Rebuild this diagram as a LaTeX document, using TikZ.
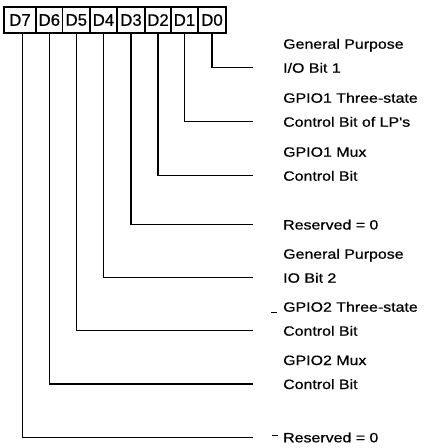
\documentclass[tikz,border=0pt]{standalone}
\usepackage{fontspec}
\setmainfont{Liberation Sans}
\newfontfamily\lblfont[FakeStretch=1.18,FakeBold=0.7]{Liberation Sans}
\newfontfamily\bitfont[FakeBold=0.5]{Liberation Sans}
\begin{document}
\begin{tikzpicture}[x=1pt,y=-1pt,
  cell/.style={draw,line width=1.1pt,inner sep=0pt,minimum height=26pt,font=\bitfont\fontsize{16.8}{17}\selectfont},
  wire/.style={line width=1.2pt},
  lbl/.style={anchor=base west,inner sep=0pt,font=\lblfont\fontsize{13.5}{15}\selectfont},
  tick/.style={line width=0.6pt}]
\useasboundingbox (0,0) rectangle (425,448);
% bit cells
\foreach \n/\a/\b in {7/4/36,6/36/62.7,5/62.7/90,4/90/117,3/117/145,2/145/171,1/171/198,0/198/226}{
  \node[cell,minimum width={(\b-\a)*1pt}] (c\n) at ({(\a+\b)/2},20) {D\n};
}
% wire end coordinates
\foreach \n/\y in {0/67.7,1/121.7,2/175.7,3/224.5,4/277.7,5/330.7,6/384,7/437.3}{
  \coordinate (e\n) at (252.5,\y);
}
\draw[wire] (c0.south) |- (e0);
\draw[wire] (c1.south) |- (e1);
\draw[wire] (c2.south) |- (e2);
\draw[wire] (c3.south) |- (e3);
\draw[wire] (c4.south) |- (e4);
\draw[wire] (c5.south) |- (e5);
\draw[wire] (c6.south) |- (e6);
\draw[wire] ([xshift=2.5pt]c7.south) |- (e7);
% labels
\node[lbl] (l0a) at (283,48.7) {General Purpose};
\node[lbl] (l0b) at (283,72.7) {I/O Bit 1};
\node[lbl] (l1a) at (283,102.7) {GPIO1 Three-state};
\node[lbl] (l1b) at (283,126.7) {Control Bit of LP's};
\node[lbl] (l2a) at (283,156.7) {GPIO1 Mux};
\node[lbl] (l2b) at (283,180.7) {Control Bit};
\node[lbl] (l3) at (283,229.5) {Reserved = 0};
\node[lbl] (l4a) at (283,258.7) {General Purpose};
\node[lbl] (l4b) at (283,282.7) {IO Bit 2};
\node[lbl] (l5a) at (283,311.7) {GPIO2 Three-state};
\node[lbl] (l5b) at (283,335.7) {Control Bit};
\node[lbl] (l6a) at (283,365) {GPIO2 Mux};
\node[lbl] (l6b) at (283,389) {Control Bit};
\node[lbl] (l7) at (283,442.3) {Reserved = 0};
% small marks
\coordinate (t5a) at (271,312.5); \coordinate (t5b) at (277,312.5);
\draw[tick] (t5a) -- (t5b);
\coordinate (t7a) at (272,435.5); \coordinate (t7b) at (278,435.5);
\draw[tick] (t7a) -- (t7b);
\end{tikzpicture}
\end{document}
